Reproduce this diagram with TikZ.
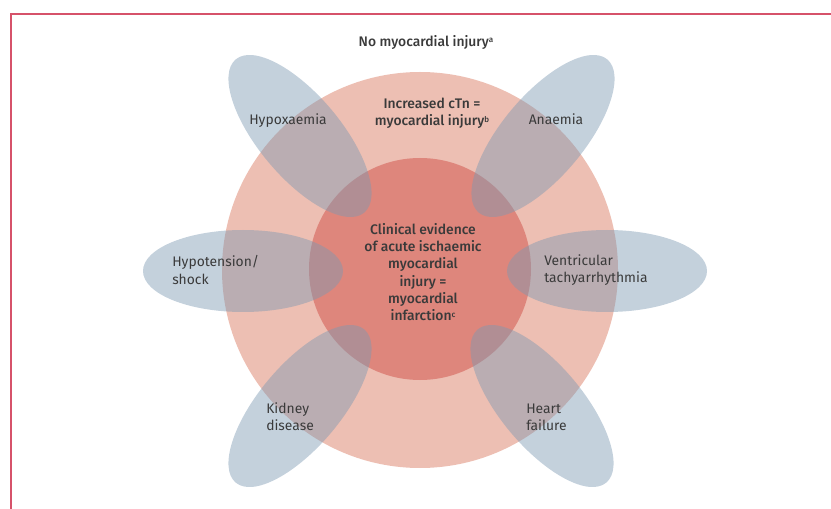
\documentclass[tikz,border=0pt]{standalone}
\usepackage{fontspec}
\setmainfont{Fira Sans}[BoldFont={* Medium}]
\definecolor{framered}{RGB}{214,82,106}
\definecolor{outerpink}{RGB}{237,191,179}
\definecolor{innerred}{RGB}{222,134,124}
\definecolor{petalblue}{RGB}{124,153,178}
\definecolor{labelgrey}{RGB}{58,58,58}
\newcommand{\supmark}[1]{\raisebox{0.45ex}{\fontsize{6}{6}\selectfont #1}}
\begin{document}
\begin{tikzpicture}[x=0.75pt,y=0.75pt,yscale=-1,xscale=1,
  petal/.style={fill=petalblue,fill opacity=0.45},
  lbl/.style={inner sep=0.75pt,font=\fontsize{10.4}{12.9}\selectfont,text=labelgrey},
  lblbold/.style={lbl,font=\fontsize{10.4}{12.9}\selectfont\bfseries}]
\useasboundingbox (0,0) rectangle (831,509);

%Straight Lines [id:frame] 
\draw [color=framered,line width=1.5pt]   (11,530) -- (11,14) -- (850,14) ;

%Shape: Circle [id:outer] 
\fill [outerpink]   (420,270) circle (198) ;
%Shape: Circle [id:inner] 
\fill [innerred]   (420,269) circle (111) ;

%Shape: Ellipse [id:hypoxaemia] 
\fill [petal,shift={(300,136)},rotate=50]   (0,0) ellipse [x radius=100,y radius=41] ;
%Shape: Ellipse [id:anaemia] 
\fill [petal,shift={(543,136)},rotate=-50]   (0,0) ellipse [x radius=100,y radius=41] ;
%Shape: Ellipse [id:hypotension] 
\fill [petal]   (243,271) ellipse [x radius=100,y radius=41] ;
%Shape: Ellipse [id:ventricular] 
\fill [petal]   (607,271) ellipse [x radius=100,y radius=41] ;
%Shape: Ellipse [id:kidney] 
\fill [petal,shift={(300,406)},rotate=-50]   (0,0) ellipse [x radius=100,y radius=41] ;
%Shape: Ellipse [id:heart] 
\fill [petal,shift={(542,406)},rotate=50]   (0,0) ellipse [x radius=100,y radius=41] ;

% Text Node
\draw (426,42) node [lblbold] (noinjury) {No myocardial injury\supmark{a}};
% Text Node
\draw (432,113) node [lblbold,align=center] (increased) {Increased cTn =\\myocardial injury\supmark{b}};
% Text Node
\draw (423,272) node [lblbold,align=center] (infarction) {Clinical evidence\\of acute ischaemic\\myocardial\\injury =\\myocardial\\infarction\supmark{c}};
% Text Node
\draw (288,121) node [lbl] (hypox) {Hypoxaemia};
% Text Node
\draw (556,119) node [lbl] (anaemia) {Anaemia};
% Text Node
\draw (171,270) node [lbl,anchor=west,align=left] (hypotension) {Hypotension/\\shock};
% Text Node
\draw (543,270) node [lbl,anchor=west,align=left] (ventricular) {Ventricular\\tachyarrhythmia};
% Text Node
\draw (265,417) node [lbl,anchor=west,align=left] (kidney) {Kidney\\disease};
% Text Node
\draw (525,417) node [lbl,anchor=west,align=left] (heart) {Heart\\failure};

\end{tikzpicture}
\end{document}
